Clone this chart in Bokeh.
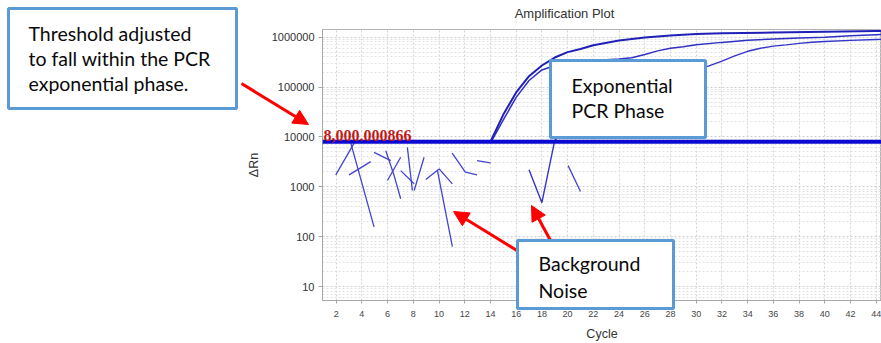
import math
from bokeh.plotting import figure
from bokeh.models import (BoxAnnotation, Label, Arrow, NormalHead, Span,
                          FixedTicker, Range1d, PrintfTickFormatter, GridBox)
from bokeh.embed import file_html
from bokeh.resources import INLINE

# ---------------- data ----------------
title_text = "Amplification Plot"
x_label = "Cycle"
y_label = "ΔRn"
x_ticks = list(range(2, 46, 2))
y_ticks = [10, 100, 1000, 10000, 100000, 1000000]
threshold = 8000.000866
threshold_label = "8,000.000866"

curve_a_cycles = [14, 15, 16, 17, 18, 19, 20, 21, 22, 24, 26, 28, 30, 32, 36, 40, 44, 45]
curve_a_values = [8000, 28000, 78000, 165000, 270000, 390000, 500000, 580000, 690000,
                  860000, 980000, 1080000, 1150000, 1190000, 1240000, 1280000, 1320000, 1330000]

curve_b_cycles = [14, 15, 16, 17, 18, 19, 20, 22, 24, 25, 26, 27, 28, 29, 30, 32, 34, 36, 38, 40, 42, 44, 45]
curve_b_values = [7500, 22000, 62000, 135000, 220000, 270000, 300000, 340000, 365000, 385000,
                  450000, 530000, 600000, 645000, 700000, 785000, 865000, 920000, 960000,
                  1000000, 1060000, 1120000, 1140000]

curve_c_cycles = [17, 18, 19, 20, 21, 22, 23, 24, 25, 26, 27, 28, 29, 30, 31, 32, 33, 34,
                  35, 36, 37, 38, 39, 40, 42, 44, 45]
curve_c_values = [2200, 480, 8500, 16000, 25000, 38000, 52000, 70000, 90000, 110000, 135000,
                  160000, 190000, 225000, 265000, 330000, 420000, 520000, 600000, 660000,
                  700000, 750000, 790000, 820000, 860000, 895000, 910000]

noise_cycles = [
    [1.97, 3.40], [3.14, 4.95], [3.01, 4.69], [4.95, 6.25], [5.86, 6.51, 7.02],
    [5.99, 7.02], [7.02, 8.07], [7.54, 7.93], [8.07, 8.84], [8.97, 10.01, 11.04],
    [9.88, 11.04], [11.02, 12.05, 12.96], [12.96, 14.0], [20.04, 21.0],
]
noise_values = [
    [1730, 7520], [7520, 157], [1730, 3190], [4910, 3340], [5280, 1680, 577],
    [1335, 3910], [2110, 1147], [6180, 844], [844, 3910], [1398, 2285, 1147],
    [2110, 63], [4750, 1963, 1730], [3340, 3005], [2656, 806],
]

box_threshold_lines = ["Threshold adjusted", "to fall within the PCR", "exponential phase."]
box_expo_lines = ["Exponential", "PCR Phase"]
box_noise_lines = ["Background", "Noise"]

# ---------------- main chart ----------------
W, H = 881, 343
FL, FR, FT, FB = 322, 881, 29, 302
X0, X1 = 0.94, 44.41
LY0, LY1 = 0.721, 6.153

p = figure(width=W, height=H, x_range=Range1d(X0, X1),
           y_range=Range1d(10 ** LY0, 10 ** LY1), y_axis_type="log",
           output_backend="svg", toolbar_location=None,
           min_border_left=FL, min_border_right=W - FR,
           min_border_top=FT, min_border_bottom=H - FB)
p.frame_align = False

p.background_fill_color = "white"
p.border_fill_color = "white"
p.outline_line_color = "#b4b4b4"

ax = p.xaxis[0]
ax.ticker = FixedTicker(ticks=x_ticks)
ax.axis_label = x_label
ax.axis_label_text_font = "Liberation Sans"
ax.axis_label_text_font_size = "12.5px"
ax.axis_label_text_font_style = "normal"
ax.axis_label_text_color = "#333333"
ax.axis_label_standoff = 7
ax.major_label_text_font = "Liberation Sans"
ax.major_label_text_font_size = "9px"
ax.major_label_text_color = "#444444"
ax.major_label_standoff = 7
ax.axis_line_color = "#a8a8a8"
ax.major_tick_line_color = "#a8a8a8"
ax.major_tick_out = 3
ax.major_tick_in = 0
ax.minor_tick_line_color = None

ay = p.yaxis[0]
ay.ticker = FixedTicker(ticks=y_ticks,
                        minor_ticks=[m * 10 ** e for e in range(0, 7) for m in range(2, 10)])
ay.formatter = PrintfTickFormatter(format="%d")
ay.axis_label = y_label
ay.axis_label_text_font = "Liberation Sans"
ay.axis_label_text_font_size = "12.5px"
ay.axis_label_text_font_style = "normal"
ay.axis_label_text_color = "#333333"
ay.axis_label_standoff = 8
ay.major_label_text_font = "Liberation Sans"
ay.major_label_text_font_size = "11px"
ay.major_label_text_color = "#333333"
ay.major_label_standoff = 4
ay.axis_line_color = "#a8a8a8"
ay.major_tick_line_color = "#a8a8a8"
ay.major_tick_out = 4
ay.major_tick_in = 0
ay.minor_tick_line_color = None

p.xgrid.ticker = FixedTicker(ticks=x_ticks)
p.xgrid.grid_line_color = "#d4d4d4"
p.xgrid.grid_line_dash = "2 2"
p.ygrid.grid_line_color = "#cfcfcf"
p.ygrid.grid_line_dash = "2 2"
p.ygrid.minor_grid_line_color = "#e2e2e2"
p.ygrid.minor_grid_line_dash = "2 2"

p.multi_line(noise_cycles, noise_values, line_color="#4444d0", line_width=1.3)
p.line(curve_c_cycles, curve_c_values, line_color="#3535c8", line_width=1.4)
p.line(curve_b_cycles, curve_b_values, line_color="#3030c4", line_width=1.5)
p.line(curve_a_cycles, curve_a_values, line_color="#2020b8", line_width=2.0)

p.add_layout(Span(location=threshold, dimension="width", line_color="#0a0ad2", line_width=4))
p.add_layout(Label(x=X0, y=threshold, x_offset=1, y_offset=1, text=threshold_label,
                   text_baseline="bottom", text_font="Liberation Serif",
                   text_font_style="bold", text_font_size="16px", text_color="#c01818"))

# ---------------- overlay for title and callouts (pixel coordinates) ----------------
ov = figure(width=W, height=H, x_range=Range1d(0, W), y_range=Range1d(H, 0),
            output_backend="svg", toolbar_location=None,
            x_axis_location=None, y_axis_location=None,
            min_border=0, min_border_left=0, min_border_right=0,
            min_border_top=0, min_border_bottom=0)
ov.frame_align = False
ov.background_fill_color = None
ov.border_fill_color = None
ov.outline_line_color = None
ov.xgrid.visible = False
ov.ygrid.visible = False

ov.add_layout(Label(x=564, y=13, text=title_text, text_align="center",
                    text_baseline="middle", text_font="Liberation Sans",
                    text_font_size="13px", text_color="#333333"))

BOX_LINE = "#5b9bd5"

def add_box(l, t, r, b, lines, tx, ty0, step):
    ov.add_layout(BoxAnnotation(left=l, right=r, top=t, bottom=b,
                                fill_color="white", fill_alpha=1.0,
                                line_color=BOX_LINE, line_width=3, line_alpha=1.0))
    for i, s in enumerate(lines):
        ov.add_layout(Label(x=tx, y=ty0 + i * step, text=s, text_baseline="middle",
                            text_font="Lato", text_font_size="19.5px",
                            text_color="#0a0a0a"))

def add_arrow(x0, y0, x1, y1):
    ov.add_layout(Arrow(end=NormalHead(size=15, fill_color="#ff0000", line_color="#ff0000"),
                        x_start=x0, y_start=y0, x_end=x1, y_end=y1,
                        line_color="#ff0000", line_width=3))

add_box(8, 8, 236, 108, box_threshold_lines, 28, 33, 25)
add_box(550, 60, 705, 137, box_expo_lines, 571, 85, 25)
add_arrow(241, 83, 308, 124)
add_arrow(518, 251, 453, 211)
add_arrow(550, 240, 531, 205)
add_box(517, 240, 673, 308, box_noise_lines, 538, 263, 27)

layout = GridBox(children=[(p, 0, 0), (ov, 0, 0)])

open("out.html", "w").write(file_html(layout, INLINE))
